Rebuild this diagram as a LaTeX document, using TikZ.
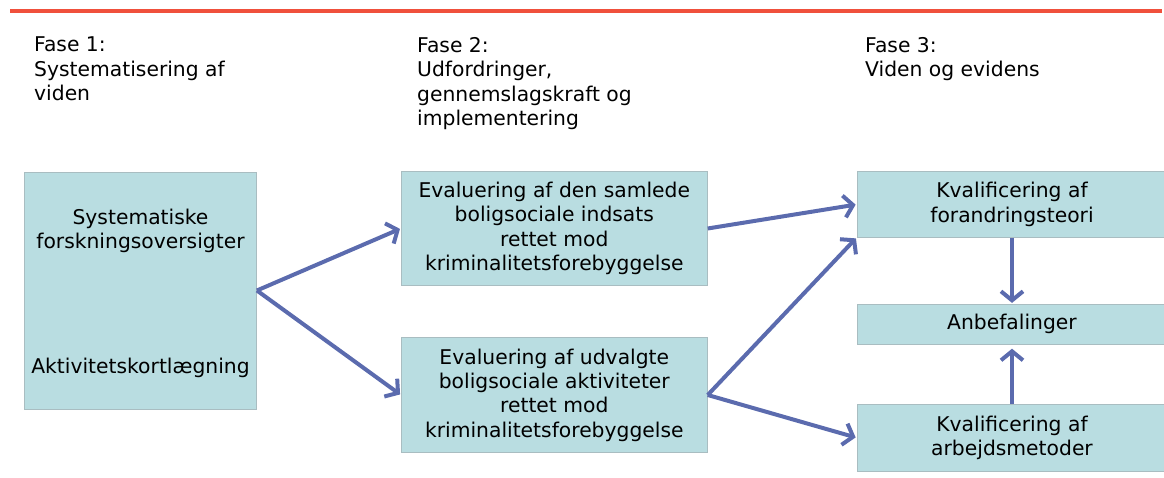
\documentclass[tikz,border=0pt]{standalone}
\usepackage{fontspec}
\setmainfont{DejaVu Sans}
\usetikzlibrary{arrows.meta}
\definecolor{boxfill}{HTML}{B9DDE1}
\definecolor{boxline}{HTML}{A9BDC1}
\definecolor{arrowc}{HTML}{5B6BAE}
\definecolor{topred}{HTML}{F0503C}
\tikzset{
  txt/.style={font=\fontsize{20.3}{24.4}\selectfont, inner sep=0pt},
  box/.style={draw=boxline, line width=0.8pt, fill=boxfill, inner sep=0pt, align=center,
    font=\fontsize{20.3}{24.4}\selectfont},
  conn/.style={draw=arrowc, line width=4pt,
    -{Straight Barb[length=9pt,width=22pt,line width=4pt]}, shorten >=1pt},
  heading/.style={txt, anchor=north west, align=left},
}
\begin{document}
\begin{tikzpicture}[x=1pt,y=-1pt]
\useasboundingbox (0,0) rectangle (1164,478);
\fill[topred] (10,9) rectangle (1162,13);
% headings
\node[heading] (f1) at (34,37) {Fase 1:\\Systematisering af\\viden};
\node[heading] (f2) at (417,37) {Fase 2:\\Udfordringer,\\gennemslagskraft og\\implementering};
\node[heading] (f3) at (865,37) {Fase 3:\\Viden og evidens};
% boxes
\node[box, minimum width=232pt, minimum height=237pt] (A) at (140.5,290.5) {};
\node[txt, align=center] (A1) at (140.5,231) {Systematiske\\forskningsoversigter};
\node[txt, align=center] (A2) at (140.5,368) {Aktivitetskortlægning};
\node[box, minimum width=306pt, minimum height=113.5pt] (B) at (554.3,228.5) {Evaluering af den samlede\\boligsociale indsats\\rettet mod\\kriminalitetsforebyggelse};
\node[box, minimum width=306pt, minimum height=114.5pt] (C) at (554.3,395) {Evaluering af udvalgte\\boligsociale aktiviteter\\rettet mod\\kriminalitetsforebyggelse};
\node[box, minimum width=310pt, minimum height=65.5pt] (D) at (1012,204.5) {Kvalificering af\\forandringsteori};
\node[box, minimum width=310pt, minimum height=40pt] (E) at (1012,324.3) {Anbefalinger};
\node[box, minimum width=310pt, minimum height=66.7pt] (F) at (1012,437.7) {Kvalificering af\\arbejdsmetoder};
% connectors
\draw[conn] (A.east) -- (B.west);
\draw[conn] (A.east) -- (C.west);
\draw[conn] (B.east) -- (D.west);
\draw[conn] (C.east) -- (D.south west);
\draw[conn] (C.east) -- (F.west);
\draw[conn] (D.south) -- (E.north);
\draw[conn, shorten >=4pt] (F.north) -- (E.south);
\end{tikzpicture}
\end{document}
